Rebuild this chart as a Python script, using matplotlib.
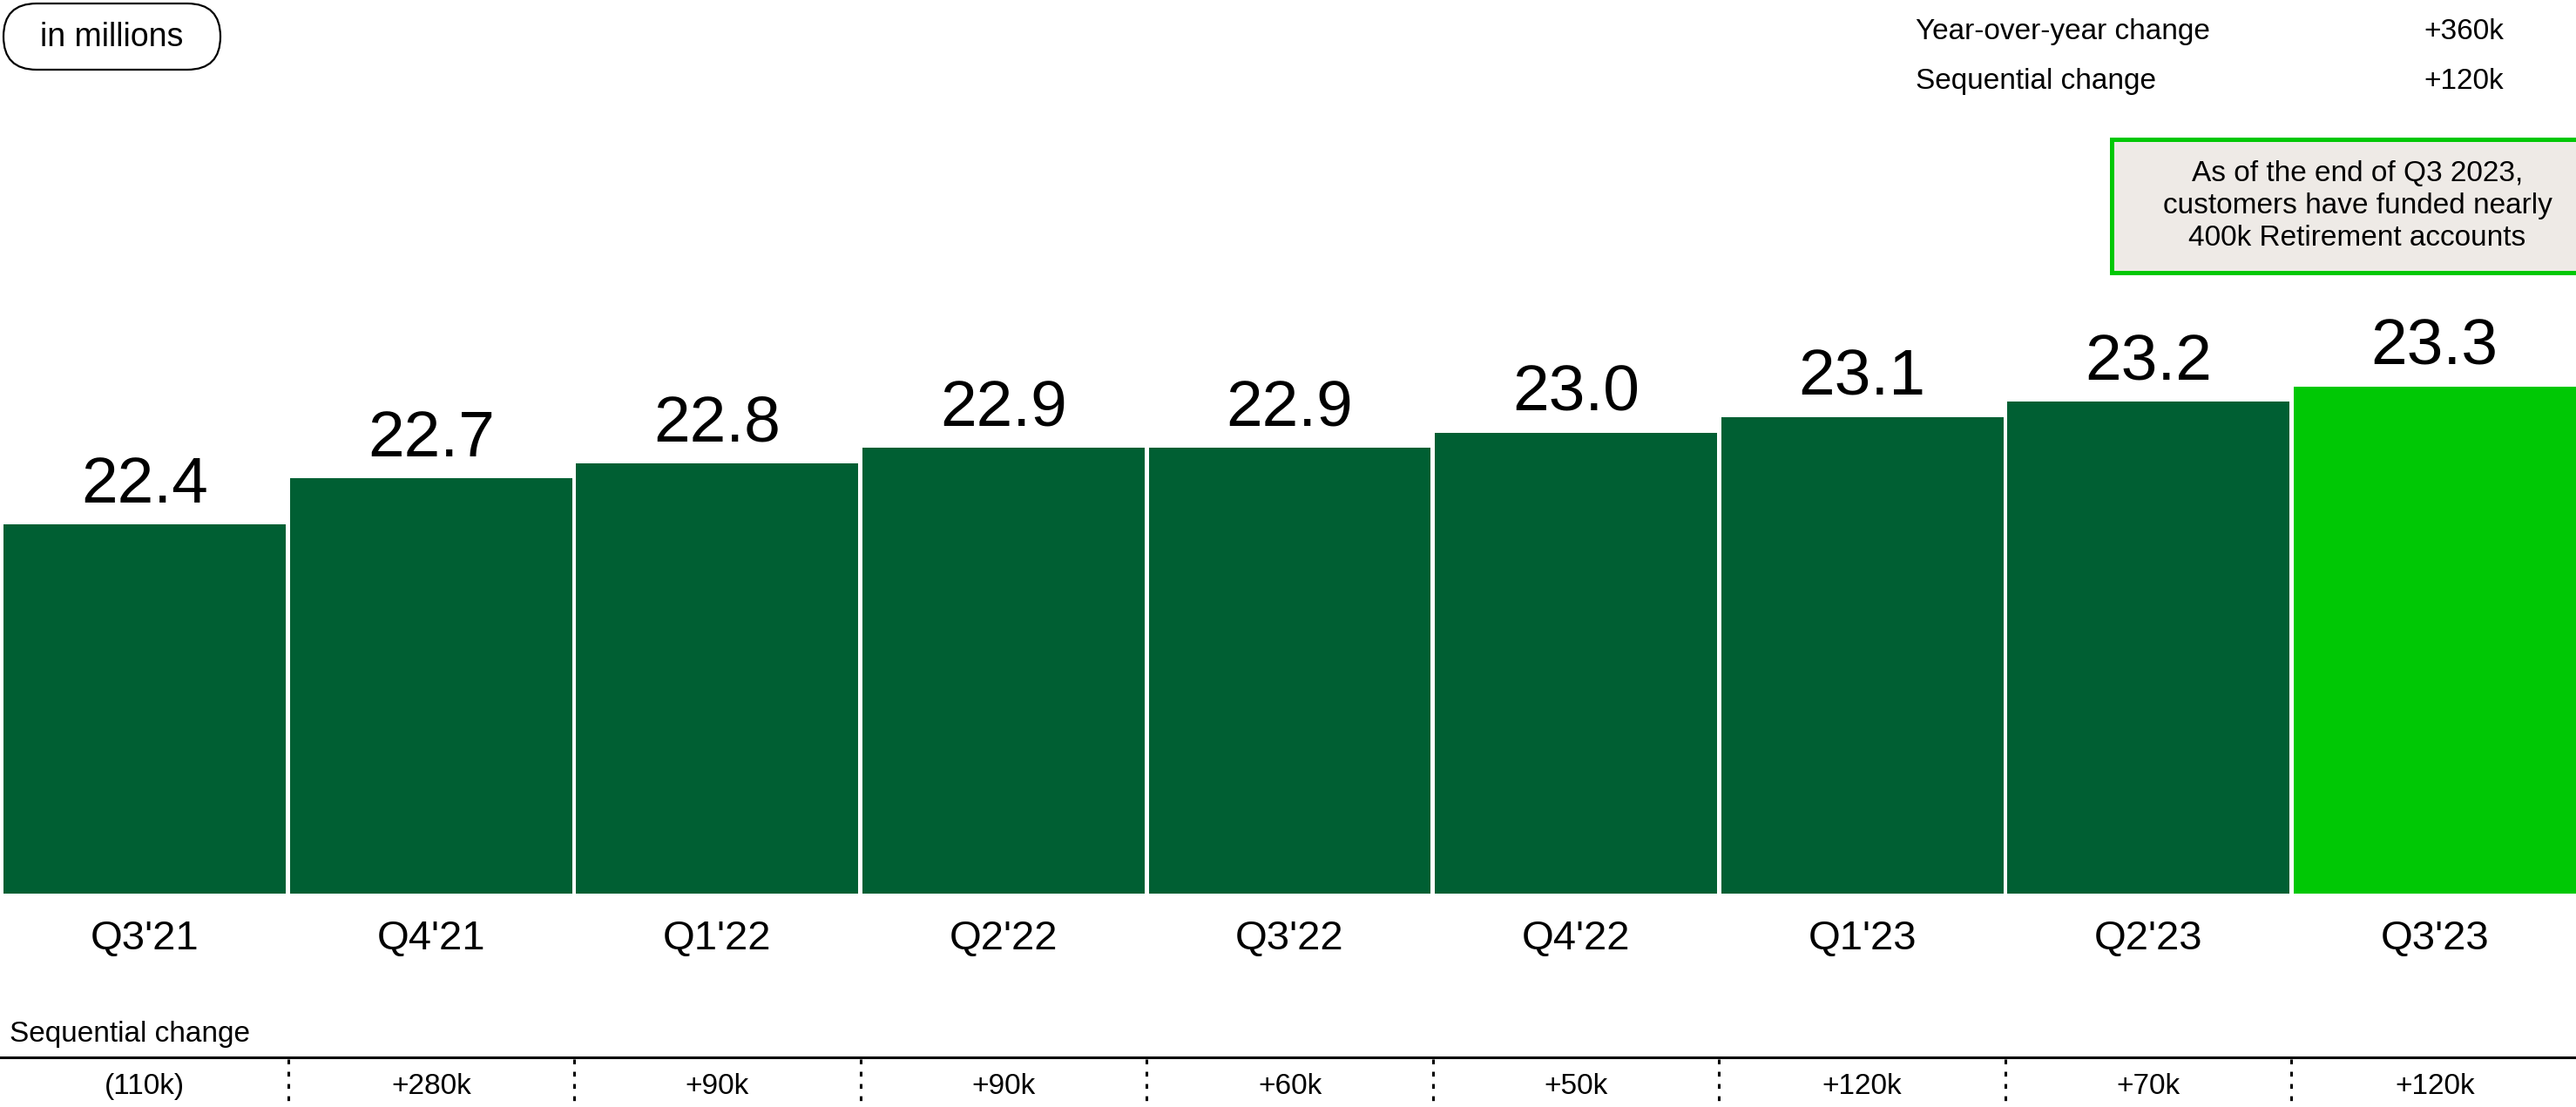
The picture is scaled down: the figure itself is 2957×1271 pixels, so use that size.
import matplotlib
matplotlib.use("Agg")
import matplotlib.pyplot as plt
import matplotlib.transforms as mtransforms
from matplotlib.patches import FancyBboxPatch, Rectangle

plt.rcParams['font.family'] = ['Liberation Sans', 'DejaVu Sans']

# Funded customers, in millions ===================================

quarters = ["Q3'21", "Q4'21", "Q1'22", "Q2'22", "Q3'22", "Q4'22", "Q1'23", "Q2'23", "Q3'23"]
customers = [22.4, 22.7, 22.8, 22.9, 22.9, 23.0, 23.1, 23.2, 23.3]
seq_change = ["(110k)", "+280k", "+90k", "+90k", "+60k", "+50k", "+120k", "+70k", "+120k"]

summary_labels = ["Year-over-year change", "Sequential change"]
summary_values = ["+360k", "+120k"]

note_lines = ["As of the end of Q3 2023,",
              "customers have funded nearly",
              "400k Retirement accounts"]

DARK = "#005F33"
BRIGHT = "#00C805"
BOX_FILL = "#EEEAE6"

W, H, DPI = 2957, 1271, 100
fig = plt.figure(figsize=(W / DPI, H / DPI), dpi=DPI)

# pixel coordinates measured from the top-left corner
px = mtransforms.Affine2D().scale(1 / DPI, -1 / DPI).translate(0, H / DPI) + fig.dpi_scale_trans

ax = fig.add_axes([2 / W, 1 - 1026 / H, 1.0, 1026 / H])
ax.set_xlim(-0.5, len(quarters) - 0.5)
ax.set_ylim(20, 20 + 1026 / 176.5)
ax.axis("off")

colors = [DARK] * (len(quarters) - 1) + [BRIGHT]
x = list(range(len(quarters)))
ax.bar(x, [v - 20 for v in customers], bottom=20, width=0.986, color=colors, clip_on=False)

for xi, v in zip(x, customers):
    ax.annotate(f"{v:.1f}", (xi, v), xytext=(0, 18), textcoords="offset points",
                ha="center", va="baseline", fontsize=54, color="black")

# quarter labels and the sequential change row
xt = mtransforms.blended_transform_factory(ax.transData, px)
for xi, q, s in zip(x, quarters, seq_change):
    fig.text(xi, 1090, q, transform=xt, ha="center", va="baseline", fontsize=34)
    fig.text(xi, 1256, s, transform=xt, ha="center", va="baseline", fontsize=24)

fig.text(11, 1196, "Sequential change", transform=px, ha="left", va="baseline", fontsize=24)
fig.add_artist(plt.Line2D([0, W], [1214, 1214], transform=px, color="black", lw=2.2))
for xi in x[:-1]:
    fig.add_artist(plt.Line2D([xi + 0.5, xi + 0.5], [1216, H], transform=xt, color="black",
                              lw=2.2, linestyle=(0, (1.8, 2.8))))

# unit pill
fig.add_artist(FancyBboxPatch((4, 4), 249, 76, boxstyle="round,pad=0,rounding_size=38",
                              transform=px, facecolor="white", edgecolor="black", lw=1.6))
fig.text(128, 53, "in millions", transform=px, ha="center", va="baseline", fontsize=27)

# summary at top right
for i, (lab, val) in enumerate(zip(summary_labels, summary_values)):
    yb = 45 + i * 57
    fig.text(2199, yb, lab, transform=px, ha="left", va="baseline", fontsize=24)
    fig.text(2874, yb, val, transform=px, ha="right", va="baseline", fontsize=24)

# retirement note box
fig.add_artist(Rectangle((2424, 160), 580, 153, transform=px, facecolor=BOX_FILL,
                         edgecolor=BRIGHT, lw=3.6, clip_on=False))
for i, line in enumerate(note_lines):
    fig.text(2706, 208 + i * 37, line, transform=px, ha="center", va="baseline", fontsize=24)

fig.savefig("out.png", dpi=DPI)
plt.close(fig)
